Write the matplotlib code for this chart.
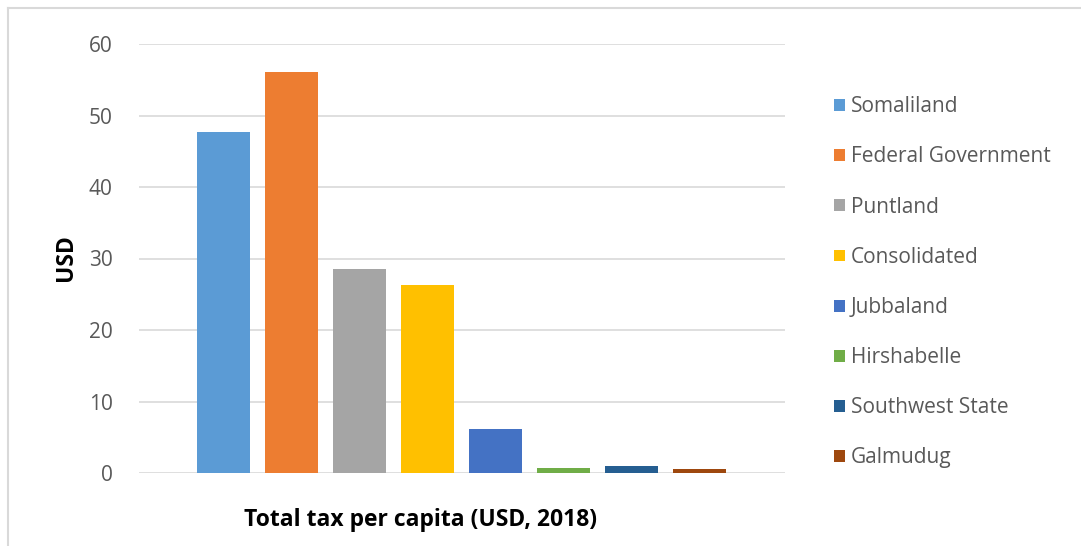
import matplotlib
matplotlib.use("Agg")
import matplotlib.pyplot as plt
from matplotlib.lines import Line2D

regions = ["Somaliland", "Federal Government", "Puntland", "Consolidated",
           "Jubbaland", "Hirshabelle", "Southwest State", "Galmudug"]
tax_per_capita = [47.7, 56.1, 28.6, 26.3, 6.2, 0.7, 1.0, 0.5]
colors = ["#5b9bd5", "#ed7d31", "#a5a5a5", "#ffc000",
          "#4472c4", "#70ad47", "#255e91", "#9e480e"]
yticks = [0, 10, 20, 30, 40, 50, 60]

plt.rcParams['font.family'] = ['Open Sans', 'DejaVu Sans']

W, H = 1081, 546
fig = plt.figure(figsize=(W / 100, H / 100), dpi=100)
ax = fig.add_axes([139 / W, (H - 473) / H, (785 - 139) / W, (473 - 44) / H])

for i, (name, val, c) in enumerate(zip(regions, tax_per_capita, colors)):
    ax.bar(i, val, width=0.78, color=c, label=name, zorder=3)

ax.set_xlim(-1.25, 8.26)
ax.set_ylim(0, 60)
ax.set_yticks(yticks)
ax.set_xticks([])
ax.grid(axis="y", color="#d9d9d9", linewidth=1.2, zorder=0)
for s in ax.spines.values():
    s.set_visible(False)
ax.tick_params(axis="y", length=0, pad=19, labelsize=15, labelcolor="#595959")

fig.text(66 / W, 1 - 258 / H, "USD", rotation=90, ha="center", va="center",
         fontsize=16.5, fontweight="bold", color="black")
fig.text(421 / W, 1 - 520 / H, "Total tax per capita (USD, 2018)", ha="center",
         va="center", fontsize=16.5, fontweight="bold", color="black")

leg = fig.legend(loc="upper left", bbox_to_anchor=(826 / W, 1 - 88 / H),
                 frameon=False, fontsize=15, labelcolor="#595959",
                 handlelength=0.5, handleheight=0.5, handletextpad=0.3,
                 labelspacing=1.40, borderaxespad=0)

# outer chart border (top and left edges visible)
fig.add_artist(Line2D([8 / W, 8 / W], [0, 1 - 8 / H], transform=fig.transFigure,
                      color="#d9d9d9", linewidth=1.5))
fig.add_artist(Line2D([8 / W, 1], [1 - 8 / H, 1 - 8 / H], transform=fig.transFigure,
                      color="#d9d9d9", linewidth=1.5))

fig.savefig("out.png", dpi=100)
